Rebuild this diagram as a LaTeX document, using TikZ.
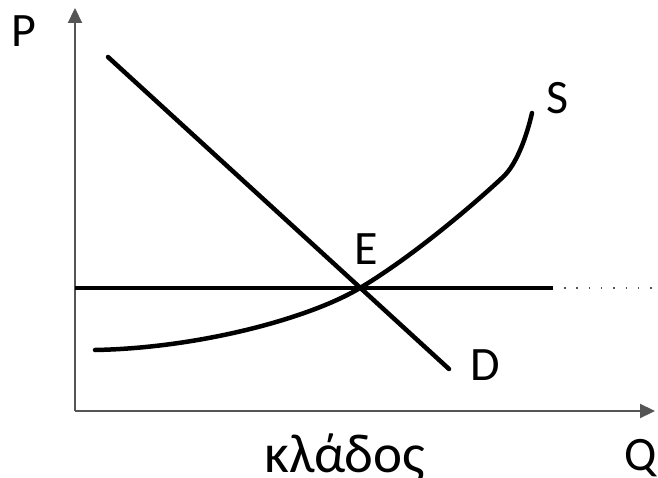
\documentclass[tikz,border=0pt]{standalone}
\usepackage{fontspec}
\setmainfont{Carlito}
\usetikzlibrary{arrows.meta}
\definecolor{axisgray}{HTML}{555555}
\tikzset{
  axis/.style={draw=axisgray,line width=2.2pt,-{Triangle[length=15pt,width=14pt]}},
  curve/.style={draw=black,line width=4.5pt,line cap=round},
  lbl/.style={anchor=base,inner sep=0pt,font=\fontsize{48}{48}\selectfont},
  dotline/.style={draw=axisgray,line width=2pt,dash pattern=on 1.5pt off 10.8pt}
}
\begin{document}
\begin{tikzpicture}[x=1pt,y=-1pt]
\useasboundingbox (0,0) rectangle (658,478);
% axes
\coordinate (O) at (75,411);
\coordinate (Ytop) at (75,8);
\coordinate (Xend) at (655,411);
\draw[axis] (O) -- (Ytop);
\draw[axis] (O) -- (Xend);
% horizontal price line
\coordinate (H0) at (75,288);
\coordinate (H1) at (553,288);
\coordinate (H2) at (564,288);
\coordinate (H3) at (658,288);
\draw[curve,line cap=butt] (H0) -- (H1);
\draw[dotline] (H2) -- (H3);
% demand
\coordinate (D0) at (108,57);
\coordinate (D1) at (449,369);
\draw[curve] (D0) -- (D1);
% supply
\coordinate (S0) at (95,350);
\coordinate (Eq) at (360,288);
\coordinate (S2) at (503,177);
\coordinate (S3) at (532,113);
\draw[curve] (S0) .. controls (200,348) and (310,318) .. (Eq)
  .. controls (420,252) and (485,194) .. (S2)
  .. controls (517,164) and (527,135) .. (S3);
% labels
\node[lbl] (P) at (24,47) {P};
\node[lbl] (S) at (558,114) {S};
\node[lbl] (E) at (366,265) {E};
\node[lbl] (D) at (485,380) {D};
\node[lbl] (Q) at (641,470) {Q};
\node[lbl,font=\fontsize{55}{55}\selectfont] (k) at (345,472) {κλάδος};
\end{tikzpicture}
\end{document}
